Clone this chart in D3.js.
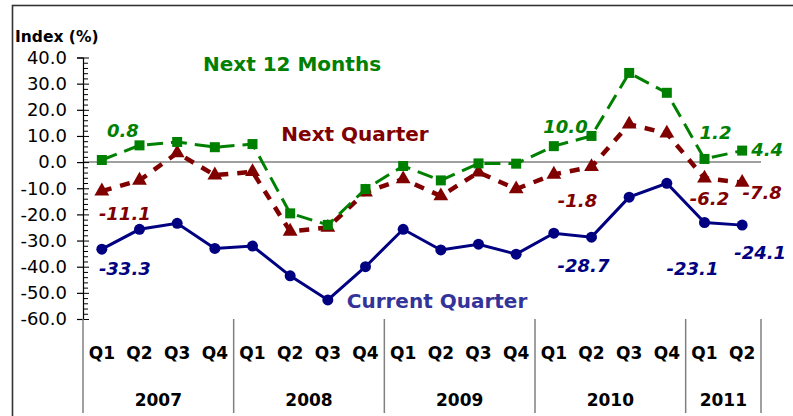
<!DOCTYPE html>
<html>
<head>
<meta charset="utf-8">
<script src="https://cdn.jsdelivr.net/npm/d3@7"></script>
<style>
  html, body { margin: 0; padding: 0; background: #fff; }
  svg { display: block; }
</style>
</head>
<body>
<svg id="chart" width="793" height="416"></svg>
<script>
// ---------- data ----------
const quarters = ["Q1","Q2","Q3","Q4","Q1","Q2","Q3","Q4","Q1","Q2","Q3","Q4","Q1","Q2","Q3","Q4","Q1","Q2"];
const years = [
  { year: "2007", count: 4 },
  { year: "2008", count: 4 },
  { year: "2009", count: 4 },
  { year: "2010", count: 4 },
  { year: "2011", count: 2 }
];
const currentQuarter = [-33.3, -25.7, -23.4, -33.0, -32.1, -43.5, -52.7, -40.0, -25.7, -33.6, -31.4, -35.2, -27.2, -28.7, -13.4, -8.1, -23.1, -24.1];
const nextQuarter    = [-11.1, -7.0, 3.5, -5.0, -3.7, -26.5, -25.0, -11.5, -6.5, -13.0, -3.9, -10.3, -4.7, -1.8, 14.5, 11.0, -6.2, -7.8];
const next12Months   = [0.8, 6.4, 7.7, 5.7, 6.9, -19.6, -24.0, -10.3, -1.5, -7.0, -0.5, -0.6, 6.1, 10.0, 34.1, 26.5, 1.2, 4.4];
const yTicks = [40, 30, 20, 10, 0, -10, -20, -30, -40, -50, -60];

// value annotations: [index, dx, dy]
const labelsNext12 = [[0, 21, -23], [13, -26, -3], [16, 11, -20], [17, 25, 5]];
const labelsNextQ  = [[0, 23, 29], [13, -14, 40], [16, 5, 27], [17, 20, 17]];
const labelsCurQ   = [[0, 23, 26], [13, -8, 35], [16, -12, 52], [17, 18, 34]];

// ---------- layout ----------
const svg = d3.select("#chart");
const font = "'DejaVu Sans', Verdana, sans-serif";
const x0 = 83, x1 = 761;
const x = d3.scaleBand().domain(d3.range(quarters.length)).range([x0, x1]).padding(0);
const y = d3.scaleLinear().domain([-60, 40]).range([319, 57.5]);
const cx = i => x(i) + x.bandwidth() / 2;

// frame
svg.append("rect")
  .attr("x", 12.5).attr("y", 5.5).attr("width", 800).attr("height", 420)
  .attr("fill", "none").attr("stroke", "#333").attr("stroke-width", 1.6);

// zero line
svg.append("line")
  .attr("x1", x0).attr("x2", x1).attr("y1", y(0)).attr("y2", y(0))
  .attr("stroke", "#808080").attr("stroke-width", 1.5);

// y axis: majors (left, with labels) and minors (right)
const yAxisG = svg.append("g").attr("transform", `translate(${x0},0)`)
  .call(d3.axisLeft(y).tickValues(yTicks).tickSize(6).tickPadding(10).tickFormat(d3.format(".1f")));
yAxisG.select(".domain").attr("stroke", "#000").attr("stroke-width", 1.2);
yAxisG.selectAll(".tick line").attr("stroke", "#000").attr("stroke-width", 1.2);
yAxisG.selectAll(".tick text").attr("font-family", font).attr("font-size", 18).attr("fill", "#000")
  .text(d => d.toFixed(1));

const minorVals = d3.range(-60, 40.001, 2);
const yMinorG = svg.append("g").attr("transform", `translate(${x0},0)`)
  .call(d3.axisRight(y).tickValues(minorVals).tickSize(5).tickFormat(""));
yMinorG.select(".domain").remove();
yMinorG.selectAll(".tick line").attr("stroke", "#000").attr("stroke-width", 1);
yMinorG.selectAll(".tick line").filter(d => d % 10 === 0).attr("x2", 6);

// Index (%) title
svg.append("text").attr("x", 15).attr("y", 42)
  .attr("font-family", font).attr("font-weight", "bold").attr("font-size", 15.5)
  .text("Index (%)");

// x axis quarter labels
svg.append("g").selectAll("text").data(quarters).join("text")
  .attr("x", (d, i) => cx(i)).attr("y", 359)
  .attr("text-anchor", "middle").attr("font-family", font).attr("font-weight", "bold").attr("font-size", 17)
  .text(d => d);

// year groups
let acc = 0;
const groups = years.map(g => { const s = acc; acc += g.count; return { ...g, start: s, end: acc }; });
const sepIdx = [0].concat(groups.map(g => g.end));
svg.append("g").selectAll("line").data(sepIdx).join("line")
  .attr("x1", i => i < quarters.length ? x(i) : x1).attr("x2", i => i < quarters.length ? x(i) : x1)
  .attr("y1", 319).attr("y2", 413)
  .attr("stroke", "#808080").attr("stroke-width", 1.5);
svg.append("g").selectAll("text").data(groups).join("text")
  .attr("x", g => (x(g.start) + (g.end < quarters.length ? x(g.end) : x1)) / 2)
  .attr("y", 406)
  .attr("text-anchor", "middle").attr("font-family", font).attr("font-weight", "bold").attr("font-size", 17)
  .text(g => g.year);

// ---------- series ----------
const line = d3.line().x((d, i) => cx(i)).y(d => y(d));

// Next Quarter (dark red, dashed, triangles)
svg.append("path").datum(nextQuarter).attr("d", line)
  .attr("fill", "none").attr("stroke", "#800000").attr("stroke-width", 4.5)
  .attr("stroke-dasharray", "10,9");
svg.append("g").selectAll("path").data(nextQuarter).join("path")
  .attr("d", d3.symbol().type(d3.symbolTriangle).size(95))
  .attr("transform", (d, i) => `translate(${cx(i)},${y(d)})`)
  .attr("fill", "#800000");

// Next 12 Months (green, long dash, squares)
svg.append("path").datum(next12Months).attr("d", line)
  .attr("fill", "none").attr("stroke", "#008000").attr("stroke-width", 3)
  .attr("stroke-dasharray", "16,8");
svg.append("g").selectAll("rect").data(next12Months).join("rect")
  .attr("x", (d, i) => cx(i) - 5).attr("y", d => y(d) - 5)
  .attr("width", 10).attr("height", 10).attr("fill", "#008000");

// Current Quarter (navy, solid, circles)
svg.append("path").datum(currentQuarter).attr("d", line)
  .attr("fill", "none").attr("stroke", "#000080").attr("stroke-width", 3);
svg.append("g").selectAll("circle").data(currentQuarter).join("circle")
  .attr("cx", (d, i) => cx(i)).attr("cy", d => y(d)).attr("r", 5.5).attr("fill", "#000080");

// value labels
function valueLabels(series, specs, color) {
  svg.append("g").selectAll("text").data(specs).join("text")
    .attr("x", s => cx(s[0]) + s[1]).attr("y", s => y(series[s[0]]) + s[2])
    .attr("text-anchor", "middle").attr("font-family", font)
    .attr("font-weight", "bold").attr("font-style", "italic").attr("font-size", 18)
    .attr("fill", color)
    .text(s => series[s[0]].toFixed(1));
}
valueLabels(next12Months, labelsNext12, "#008000");
valueLabels(nextQuarter, labelsNextQ, "#800000");
valueLabels(currentQuarter, labelsCurQ, "#000080");

// series names
const names = [
  { text: "Next 12 Months", x: 292, y: 71, color: "#008000" },
  { text: "Next Quarter", x: 355, y: 141, color: "#800000" },
  { text: "Current Quarter", x: 437, y: 308, color: "#333399" }
];
svg.append("g").selectAll("text").data(names).join("text")
  .attr("x", d => d.x).attr("y", d => d.y)
  .attr("text-anchor", "middle").attr("font-family", font).attr("font-weight", "bold").attr("font-size", 20)
  .attr("fill", d => d.color)
  .text(d => d.text);
</script>
</body>
</html>
